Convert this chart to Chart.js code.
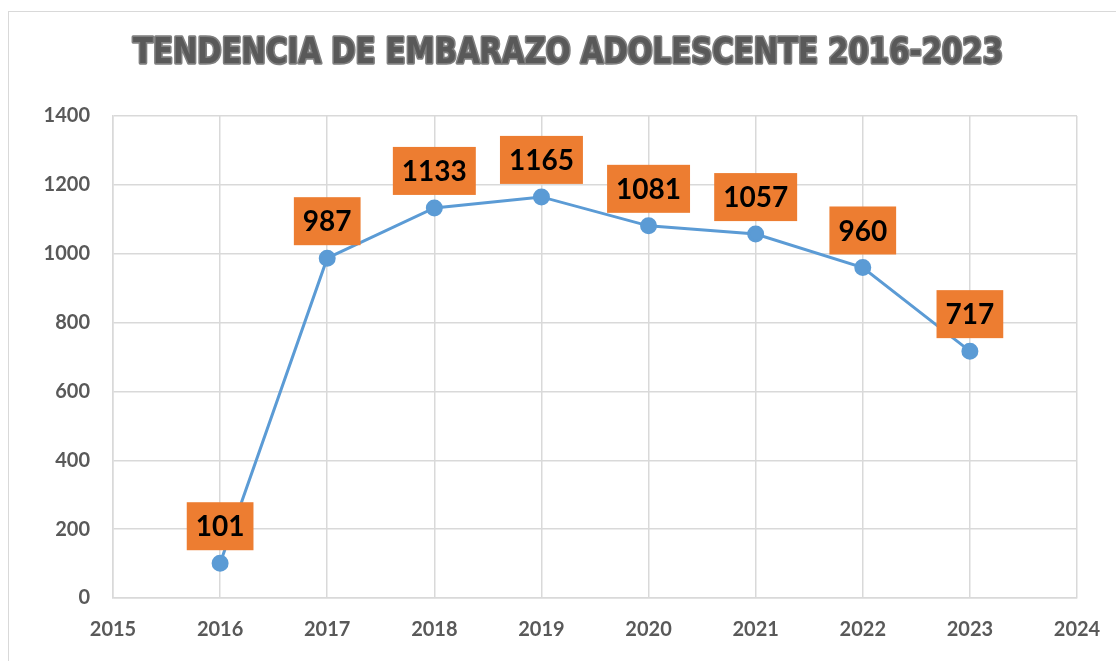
<!DOCTYPE html>
<html>
<head>
<meta charset="utf-8">
<script src="https://cdn.jsdelivr.net/npm/chart.js@4/dist/chart.umd.min.js"></script>
<style>
  html, body { margin: 0; padding: 0; background: #fff; }
  #wrap { position: relative; width: 1116px; height: 661px; overflow: hidden; }
  #frame { position: absolute; left: 8px; top: 11px; width: 1200px; height: 700px;
           border-left: 1.5px solid #d9d9d9; border-top: 1.5px solid #d9d9d9; }
  canvas { position: absolute; left: 0; top: 0; }
</style>
</head>
<body>
<div id="wrap">
  <div id="frame"></div>
  <canvas id="trendChart" width="1116" height="661"></canvas>
</div>
<script>
// Data
const chartTitle = 'TENDENCIA DE EMBARAZO ADOLESCENTE 2016-2023';
const years = [2016, 2017, 2018, 2019, 2020, 2021, 2022, 2023];
const cases = [101, 987, 1133, 1165, 1081, 1057, 960, 717];
const xMin = 2015, xMax = 2024;
const yMin = 0, yMax = 1400, yStep = 200;

const tickColor = '#595959';
const gridColor = '#d9d9d9';
const lineColor = '#5b9bd5';
const labelBg = '#ed7d31';

// Title drawn by hand so it can be squeezed to the reference width
const titlePlugin = {
    id: 'titlePlugin',
    afterDraw: function(chart) {
        const ctx = chart.ctx;
        ctx.save();
        ctx.font = "bold 36px 'Liberation Sans Narrow', 'DejaVu Sans Condensed', 'Liberation Sans', sans-serif";
        const w = ctx.measureText(chartTitle).width;
        const targetW = 870;
        ctx.translate(568, 54);
        ctx.scale(targetW / w, 1);
        ctx.textAlign = 'center';
        ctx.textBaseline = 'middle';
        ctx.lineJoin = 'round';
        ctx.strokeStyle = '#7f7f7f';
        ctx.lineWidth = 3.5;
        ctx.strokeText(chartTitle, 0, 0);
        ctx.fillStyle = tickColor;
        ctx.fillText(chartTitle, 0, 0);
        ctx.restore();
    }
};

// Orange value boxes above each point
const valueLabels = {
    id: 'valueLabels',
    afterDatasetsDraw: function(chart) {
        const ctx = chart.ctx;
        const meta = chart.getDatasetMeta(0);
        ctx.save();
        ctx.font = "bold 28px Lato, 'Open Sans', sans-serif";
        ctx.textAlign = 'center';
        ctx.textBaseline = 'middle';
        meta.data.forEach(function(pt, i) {
            const txt = String(cases[i]);
            const tw = ctx.measureText(txt).width;
            const bw = tw + 18;
            const bh = 48;
            const bottom = pt.y - 13;
            ctx.fillStyle = labelBg;
            ctx.fillRect(pt.x - bw / 2, bottom - bh, bw, bh);
            ctx.fillStyle = '#000';
            ctx.fillText(txt, pt.x, bottom - bh / 2 + 1);
        });
        ctx.restore();
    }
};

const ctx = document.getElementById('trendChart').getContext('2d');

new Chart(ctx, {
    type: 'line',
    data: {
        datasets: [{
            label: 'Embarazo adolescente',
            data: years.map((y, i) => ({ x: y, y: cases[i] })),
            borderColor: lineColor,
            backgroundColor: lineColor,
            borderWidth: 3,
            pointRadius: 7,
            pointHoverRadius: 7,
            pointBackgroundColor: lineColor,
            pointBorderColor: lineColor,
            tension: 0,
            fill: false
        }]
    },
    options: {
        responsive: false,
        animation: false,
        layout: { padding: { top: 116, right: 39, left: 0, bottom: 0 } },
        scales: {
            x: {
                type: 'linear',
                min: xMin,
                max: xMax,
                afterFit: function(axis) {
                    axis.height = 63;
                    axis.paddingLeft = 0;
                    axis.paddingRight = 0;
                },
                ticks: {
                    stepSize: 1,
                    color: tickColor,
                    padding: 20,
                    font: { family: 'Lato', weight: 'bold', size: 20 },
                    callback: function(v) { return String(v); }
                },
                grid: { color: gridColor, lineWidth: 1.5, drawTicks: false },
                border: { color: gridColor, width: 1.5 }
            },
            y: {
                min: yMin,
                max: yMax,
                afterFit: function(axis) {
                    axis.width = 113;
                    axis.paddingTop = 0;
                    axis.paddingBottom = 0;
                },
                ticks: {
                    stepSize: yStep,
                    color: tickColor,
                    padding: 23,
                    font: { family: 'Lato', weight: 'bold', size: 20 },
                    callback: function(v) { return String(v); }
                },
                grid: { color: gridColor, lineWidth: 1.5, drawTicks: false },
                border: { color: gridColor, width: 1.5 }
            }
        },
        plugins: {
            legend: { display: false },
            title: { display: false },
            tooltip: { enabled: false }
        }
    },
    plugins: [titlePlugin, valueLabels]
});
</script>
</body>
</html>
